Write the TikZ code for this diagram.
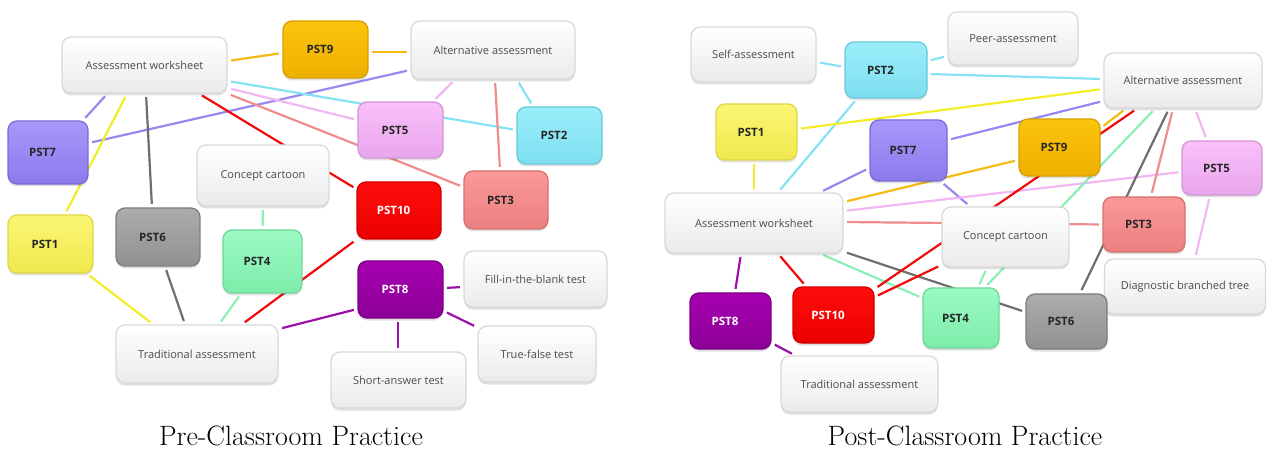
\documentclass[tikz,border=0pt]{standalone}
\usepackage{fontspec}
\newfontfamily\boxfont{Open Sans}
\usetikzlibrary{shadows}
\pgfdeclarelayer{wires}
\pgfsetlayers{wires,main}

% node colours: fill top / fill bottom / border
\definecolor{pAtop}{RGB}{250,246,115}\definecolor{pAbot}{RGB}{240,232,78}\definecolor{pAdr}{RGB}{225,215,70}
\definecolor{pBtop}{RGB}{155,238,250}\definecolor{pBbot}{RGB}{125,222,240}\definecolor{pBdr}{RGB}{105,200,218}
\definecolor{pCtop}{RGB}{250,152,152}\definecolor{pCbot}{RGB}{236,128,128}\definecolor{pCdr}{RGB}{215,112,112}
\definecolor{pDtop}{RGB}{155,250,195}\definecolor{pDbot}{RGB}{125,236,170}\definecolor{pDdr}{RGB}{112,215,152}
\definecolor{pEtop}{RGB}{250,192,250}\definecolor{pEbot}{RGB}{232,166,236}\definecolor{pEdr}{RGB}{212,148,216}
\definecolor{pFtop}{RGB}{172,172,172}\definecolor{pFbot}{RGB}{145,145,145}\definecolor{pFdr}{RGB}{125,125,125}
\definecolor{pGtop}{RGB}{168,152,250}\definecolor{pGbot}{RGB}{140,122,236}\definecolor{pGdr}{RGB}{120,106,215}
\definecolor{pHtop}{RGB}{166,0,176}\definecolor{pHbot}{RGB}{140,0,150}\definecolor{pHdr}{RGB}{125,0,135}
\definecolor{pItop}{RGB}{252,196,12}\definecolor{pIbot}{RGB}{238,176,0}\definecolor{pIdr}{RGB}{215,160,0}
\definecolor{pJtop}{RGB}{255,12,12}\definecolor{pJbot}{RGB}{236,0,0}\definecolor{pJdr}{RGB}{212,0,0}
% connector colours
\definecolor{lA}{RGB}{245,236,40}
\definecolor{lB}{RGB}{132,226,242}
\definecolor{lC}{RGB}{240,140,140}
\definecolor{lD}{RGB}{140,240,182}
\definecolor{lE}{RGB}{242,182,242}
\definecolor{lF}{RGB}{110,110,110}
\definecolor{lG}{RGB}{150,136,240}
\definecolor{lH}{RGB}{156,16,170}
\definecolor{lI}{RGB}{245,186,22}
\definecolor{lJ}{RGB}{240,10,10}

\tikzset{
  softshadow/.style={drop shadow={shadow xshift=0pt,shadow yshift=-2.5pt,opacity=0.12,fill=black}},
  card/.style={rounded corners=9pt, line width=1.3pt, softshadow,
    font=\boxfont\fontsize{11}{13}\selectfont, inner sep=2pt},
  wbox/.style={card, draw=black!15, top color=white, bottom color=black!8, text=black!70},
  pstbox/.style 2 args={card, draw=#1dr, top color=#1top, bottom color=#1bot,
    text=#2, font=\boxfont\bfseries\fontsize{11.5}{13}\selectfont,
    execute at begin node={\hspace*{-11pt}}},
  link/.style={line width=2.2pt, shorten <=3.5pt, shorten >=3.5pt},
  caption/.style={font=\fontsize{28}{32}\selectfont, text=black}
}

\begin{document}
\begin{tikzpicture}[x=1pt,y=-1pt]
\useasboundingbox (0,0) rectangle (1267,457);

% ===================== pre-classroom map =====================
\node[wbox, minimum width=165pt, minimum height=56pt] (aw1) at (144.5,65) {Assessment worksheet};
\node[pstbox={pI}{black!85}, minimum width=85pt, minimum height=57pt] (p9a) at (325.5,49.5) {PST9};
\node[wbox, minimum width=164pt, minimum height=58pt] (alt1) at (493,50) {Alternative assessment};
\node[pstbox={pG}{black!85}, minimum width=80pt, minimum height=63pt] (p7a) at (48,152.5) {PST7};
\node[pstbox={pE}{black!85}, minimum width=85pt, minimum height=56pt] (p5a) at (400.5,130) {PST5};
\node[pstbox={pB}{black!85}, minimum width=85pt, minimum height=57pt] (p2a) at (559.5,135.5) {PST2};
\node[wbox, minimum width=132pt, minimum height=61pt] (cc1) at (263,175.5) {Concept cartoon};
\node[pstbox={pJ}{white}, minimum width=84pt, minimum height=57pt] (p10a) at (399,210.5) {PST10};
\node[pstbox={pC}{black!85}, minimum width=84pt, minimum height=58pt] (p3a) at (506,200) {PST3};
\node[pstbox={pA}{black!85}, minimum width=85pt, minimum height=58pt] (p1a) at (50.5,244) {PST1};
\node[pstbox={pF}{black!85}, minimum width=84pt, minimum height=58pt] (p6a) at (158,237) {PST6};
\node[pstbox={pD}{black!85}, minimum width=79pt, minimum height=63pt] (p4a) at (262.5,261.5) {PST4};
\node[pstbox={pH}{white}, minimum width=85pt, minimum height=57pt] (p8a) at (400.5,289.5) {PST8};
\node[wbox, minimum width=143pt, minimum height=56pt] (fib) at (535.5,279) {Fill-in-the-blank test};
\node[wbox, minimum width=162pt, minimum height=58pt] (trad1) at (197,354) {Traditional assessment};
\node[wbox, minimum width=118pt, minimum height=56pt] (tf) at (537,354) {True-false test};
\node[wbox, minimum width=135pt, minimum height=56pt] (sa) at (398.5,380) {Short-answer test};

% ===================== post-classroom map =====================
\node[wbox, minimum width=125pt, minimum height=55pt] (self) at (753.5,54.5) {Self-assessment};
\node[pstbox={pB}{black!85}, minimum width=82pt, minimum height=56pt] (p2b) at (886,70) {PST2};
\node[wbox, minimum width=130pt, minimum height=53pt] (peer) at (1013,38.5) {Peer-assessment};
\node[wbox, minimum width=158pt, minimum height=55pt] (alt2) at (1183,80.5) {Alternative assessment};
\node[pstbox={pA}{black!85}, minimum width=81pt, minimum height=56pt] (p1b) at (756.5,132) {PST1};
\node[pstbox={pG}{black!85}, minimum width=77pt, minimum height=61pt] (p7b) at (908.5,150.5) {PST7};
\node[pstbox={pI}{black!85}, minimum width=81pt, minimum height=57pt] (p9b) at (1059.5,147.5) {PST9};
\node[pstbox={pE}{black!85}, minimum width=80pt, minimum height=54pt] (p5b) at (1222,168) {PST5};
\node[wbox, minimum width=178pt, minimum height=60pt] (aw2) at (754,223) {Assessment worksheet};
\node[wbox, minimum width=127pt, minimum height=60pt] (cc2) at (1005.5,237) {Concept cartoon};
\node[pstbox={pC}{black!85}, minimum width=82pt, minimum height=55pt] (p3b) at (1144,224.5) {PST3};
\node[wbox, minimum width=161pt, minimum height=55pt] (diag) at (1185,286.5) {Diagnostic branched tree};
\node[pstbox={pH}{white}, minimum width=81pt, minimum height=56pt] (p8b) at (730.5,321) {PST8};
\node[pstbox={pJ}{white}, minimum width=81pt, minimum height=56pt] (p10b) at (833.5,315) {PST10};
\node[pstbox={pD}{black!85}, minimum width=76pt, minimum height=60pt] (p4b) at (961,318) {PST4};
\node[pstbox={pF}{black!85}, minimum width=81pt, minimum height=55pt] (p6b) at (1066.5,321.5) {PST6};
\node[wbox, minimum width=157pt, minimum height=56pt] (trad2) at (859.5,384) {Traditional assessment};

% captions
\node[caption] (capL) at (291,436) {Pre-Classroom Practice};
\node[caption] (capR) at (965,436) {Post-Classroom Practice};

% ===================== connectors, kept under the cards =====================
\begin{pgfonlayer}{wires}
% pre-classroom
\draw[link, lI] ([shift={(0,-4)}]aw1.east) -- ([shift={(0,3.5)}]p9a.west);
\draw[link, lI] ([shift={(0,2.5)}]p9a.east) -- ([shift={(0,2)}]alt1.west);
\draw[link, lG] ([shift={(-37,0)}]aw1.south) -- ([shift={(35,0)}]p7a.north);
\draw[link, lG] ([shift={(0,-9.5)}]p7a.east) -- ([shift={(0,20)}]alt1.west);
\draw[link, lA] ([shift={(-17.5,0)}]aw1.south) -- ([shift={(14.5,0)}]p1a.north);
\draw[link, lA] ([shift={(36.5,0)}]p1a.south) -- ([shift={(-44,0)}]trad1.north);
\draw[link, lF] ([shift={(1.5,0)}]aw1.south) -- ([shift={(-6,0)}]p6a.north);
\draw[link, lF] ([shift={(7,0)}]p6a.south) -- ([shift={(-12,0)}]trad1.north);
\draw[link, lB] ([shift={(0,16)}]aw1.east) -- ([shift={(0,-5.5)}]p2a.west);
\draw[link, lE] ([shift={(0,23)}]aw1.east) -- ([shift={(0,-10)}]p5a.west);
\draw[link, lE] ([shift={(-38,0)}]alt1.south) -- ([shift={(32.5,0)}]p5a.north);
\draw[link, lC] (aw1.south east) -- ([shift={(0,-13)}]p3a.west);
\draw[link, lC] ([shift={(2,0)}]alt1.south) -- ([shift={(-6,0)}]p3a.north);
\draw[link, lB] ([shift={(24,0)}]alt1.south) -- ([shift={(-26.5,0)}]p2a.north);
\draw[link, lJ] ([shift={(54.5,0)}]aw1.south) -- ([shift={(0,-21.5)}]p10a.west);
\draw[link, lD] (cc1.south) -- (p4a.north);
\draw[link, lD] ([shift={(-21.5,0)}]p4a.south) -- ([shift={(22,0)}]trad1.north);
\draw[link, lJ] (p10a.south west) -- ([shift={(45,0)}]trad1.north);
\draw[link, lH] ([shift={(0,19.5)}]p8a.west) -- ([shift={(0,-25)}]trad1.east);
\draw[link, lH] ([shift={(0,-1.5)}]p8a.east) -- ([shift={(0,8)}]fib.west);
\draw[link, lH] ([shift={(0,21.5)}]p8a.east) -- ([shift={(0,2)}]tf.north west);
\draw[link, lH] ([shift={(-2.5,0)}]p8a.south) -- ([shift={(-0.5,0)}]sa.north);
% post-classroom
\draw[link, lB] ([shift={(0,7.5)}]self.east) -- ([shift={(0,-3)}]p2b.west);
\draw[link, lB] ([shift={(0,-9)}]p2b.east) -- ([shift={(0,17.5)}]peer.west);
\draw[link, lB] ([shift={(0,4)}]p2b.east) -- ([shift={(0,-1.5)}]alt2.west);
\draw[link, lB] ([shift={(-29,0)}]p2b.south) -- ([shift={(24,0)}]aw2.north);
\draw[link, lA] ([shift={(-2.5,0)}]p1b.south) -- (aw2.north);
\draw[link, lA] ([shift={(0,-3)}]p1b.east) -- ([shift={(0,8.5)}]alt2.west);
\draw[link, lG] ([shift={(0,-10.5)}]p7b.east) -- ([shift={(0,20.5)}]alt2.west);
\draw[link, lG] ([shift={(0,17.5)}]p7b.west) -- ([shift={(66,0)}]aw2.north);
\draw[link, lG] ([shift={(32.5,0)}]p7b.south) -- ([shift={(-35.5,0)}]cc2.north);
\draw[link, lI] ([shift={(0,12.5)}]p9b.west) -- ([shift={(0,-21)}]aw2.east);
\draw[link, lI] ([shift={(0,-19.5)}]p9b.east) -- ([shift={(-57,0)}]alt2.south);
\draw[link, lE] ([shift={(0,4)}]p5b.west) -- ([shift={(0,-12)}]aw2.east);
\draw[link, lE] ([shift={(-15,0)}]p5b.north) -- ([shift={(12,0)}]alt2.south);
\draw[link, lE] ([shift={(-12,0)}]p5b.south) -- ([shift={(10,0)}]diag.north);
\draw[link, lC] ([shift={(0,-1)}]aw2.east) -- (p3b.west);
\draw[link, lC] ([shift={(-10,0)}]alt2.south) -- ([shift={(7,0)}]p3b.north);
\draw[link, lF] ([shift={(-14,0)}]alt2.south) -- ([shift={(13.5,0)}]p6b.north);
\draw[link, lD] ([shift={(-28,0)}]alt2.south) -- ([shift={(24,0)}]p4b.north);
\draw[link, lD] ([shift={(-18.5,0)}]cc2.south) -- ([shift={(17,0)}]p4b.north);
\draw[link, lD] ([shift={(66,0)}]aw2.south) -- ([shift={(0,-20)}]p4b.west);
\draw[link, lF] ([shift={(0,-2)}]aw2.south east) -- ([shift={(0,-9.5)}]p6b.west);
\draw[link, lJ] ([shift={(24,0)}]aw2.south) -- ([shift={(-27.5,0)}]p10b.north);
\draw[link, lJ] ([shift={(0,-26)}]p10b.east) -- ([shift={(-46,0)}]alt2.south);
\draw[link, lJ] ([shift={(0,-18)}]p10b.east) -- ([shift={(0,28)}]cc2.west);
\draw[link, lH] ([shift={(-13,0)}]aw2.south) -- ([shift={(4.5,0)}]p8b.north);
\draw[link, lH] ([shift={(0,22)}]p8b.east) -- ([shift={(-64.5,0)}]trad2.north);
\end{pgfonlayer}
\end{tikzpicture}
\end{document}
